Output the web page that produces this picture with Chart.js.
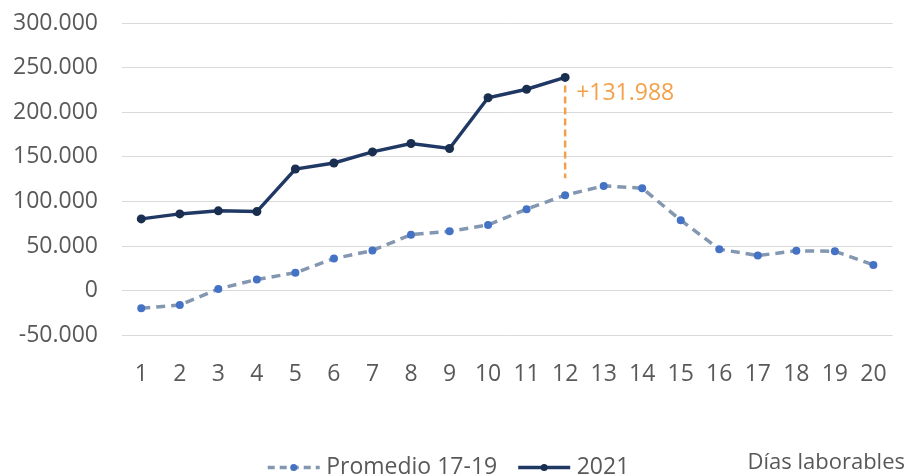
<!DOCTYPE html>
<html>
<head>
<meta charset="utf-8">
<script src="https://cdn.jsdelivr.net/npm/chart.js@4/dist/chart.umd.min.js"></script>
<style>
  html, body { margin: 0; padding: 0; background: #fff; }
  #wrap { width: 912px; height: 475px; position: relative; }
</style>
</head>
<body>
<div id="wrap"><canvas id="chart"></canvas></div>
<script>
// Días laborables 1..20
var dias = ['1', '2', '3', '4', '5', '6', '7', '8', '9', '10', '11', '12', '13', '14', '15', '16', '17', '18', '19', '20'];
var promedio1719 = [-19900, -16200, 1900, 12500, 20000, 35900, 44900, 62700, 66400, 73600, 91300, 107012, 117400, 114800, 78900, 46400, 39300, 44600, 44100, 28800];
var serie2021 = [80400, 86000, 89400, 88600, 136300, 143100, 155500, 164900, 159300, 216200, 225700, 239000];
var yTicksMin = -50000;
var yTicksMax = 300000;
var yTicksStep = 50000;

function fmtMiles(v) {
    return String(v).replace(/\B(?=(\d{3})+(?!\d))/g, '.');
}

var FONT = '"Open Sans", "DejaVu Sans", sans-serif';
var GRIS = '#595959';
var COL_PROM = '#8497b0', COL_PROM_PT = '#4472c4';
var COL_2021 = '#1f3864', COL_2021_PT = '#1a2e4f';

// orange gap marker at the last 2021 day, legend line samples, axis caption
var extrasPlugin = {
    id: 'extras',
    afterDatasetsDraw: function (chart) {
        var ctx = chart.ctx;
        var xs = chart.scales.x, ys = chart.scales.y;
        var i = serie2021.length - 1;
        var x = xs.getPixelForValue(i);
        var yTop = ys.getPixelForValue(serie2021[i]) + 8;
        var yBot = ys.getPixelForValue(promedio1719[i]) - 17;
        ctx.save();
        ctx.strokeStyle = '#f4a04a';
        ctx.lineWidth = 2.5;
        ctx.setLineDash([7, 4]);
        ctx.beginPath();
        ctx.moveTo(x, yTop);
        ctx.lineTo(x, yBot);
        ctx.stroke();
        ctx.setLineDash([]);
        ctx.fillStyle = '#f4a04a';
        ctx.font = '23px ' + FONT;
        ctx.textAlign = 'left';
        ctx.textBaseline = 'middle';
        ctx.fillText('+' + fmtMiles(serie2021[i] - promedio1719[i]), x + 11, yTop + 8);
        ctx.restore();
    },
    afterDraw: function (chart) {
        var ctx = chart.ctx;
        var lg = chart.legend;
        if (!lg || !lg.legendHitBoxes) return;
        ctx.save();
        var styles = [
            { line: COL_PROM, pt: COL_PROM_PT, dash: [7, 5] },
            { line: COL_2021, pt: COL_2021_PT, dash: [] }
        ];
        lg.legendHitBoxes.forEach(function (hb, k) {
            var s = styles[k];
            var cy = hb.top + hb.height / 2;
            ctx.strokeStyle = s.line;
            ctx.lineWidth = 3.5;
            ctx.setLineDash(s.dash);
            ctx.beginPath();
            ctx.moveTo(hb.left + 3, cy);
            ctx.lineTo(hb.left + 55, cy);
            ctx.stroke();
            ctx.setLineDash([]);
            ctx.fillStyle = s.pt;
            ctx.beginPath();
            ctx.arc(hb.left + 29, cy, 3.5, 0, Math.PI * 2);
            ctx.fill();
        });
        var hb0 = lg.legendHitBoxes[0];
        ctx.fillStyle = GRIS;
        ctx.font = '22px ' + FONT;
        ctx.textAlign = 'right';
        ctx.textBaseline = 'middle';
        ctx.fillText('Días laborables', chart.width - 7, hb0.top + hb0.height / 2 - 5);
        ctx.restore();
    }
};

new Chart(document.getElementById('chart'), {
    type: 'line',
    data: {
        labels: dias,
        datasets: [
            {
                label: 'Promedio 17-19',
                data: promedio1719,
                borderColor: COL_PROM,
                borderWidth: 3.5,
                borderDash: [9, 6],
                pointRadius: 4,
                pointBackgroundColor: COL_PROM_PT,
                pointBorderColor: COL_PROM_PT,
                pointBorderWidth: 0,
                tension: 0
            },
            {
                label: '2021',
                data: serie2021,
                borderColor: COL_2021,
                borderWidth: 3.5,
                pointRadius: 4.5,
                pointBackgroundColor: COL_2021_PT,
                pointBorderColor: COL_2021_PT,
                pointBorderWidth: 0,
                tension: 0
            }
        ]
    },
    options: {
        responsive: true,
        maintainAspectRatio: false,
        animation: false,
        events: [],
        layout: { padding: { left: 0, right: 18, top: 23, bottom: -14 } },
        plugins: {
            tooltip: { enabled: false },
            legend: {
                position: 'bottom',
                labels: {
                    boxWidth: 50,
                    boxHeight: 4,
                    color: GRIS,
                    font: { family: FONT, size: 23 },
                    padding: 18,
                    generateLabels: function (chart) {
                        var items = Chart.defaults.plugins.legend.labels.generateLabels(chart);
                        items.forEach(function (it) {
                            it.fillStyle = 'rgba(0,0,0,0)';
                            it.strokeStyle = 'rgba(0,0,0,0)';
                            it.lineWidth = 0;
                        });
                        return items;
                    }
                }
            }
        },
        scales: {
            x: {
                offset: true,
                grid: { display: false, drawTicks: false },
                border: { display: false },
                ticks: { color: GRIS, font: { family: FONT, size: 23 }, padding: 25, maxRotation: 0, autoSkip: false },
                title: { display: true, text: '', font: { size: 1 }, padding: { top: 0, bottom: 24 } }
            },
            y: {
                min: yTicksMin,
                max: yTicksMax,
                afterFit: function (s) {
                    s.width = 122;
                    s.paddingTop = 12;
                    s.paddingBottom = 12;
                },
                grid: { color: '#d9d9d9', lineWidth: 1, drawTicks: false },
                border: { display: false },
                ticks: {
                    stepSize: yTicksStep,
                    color: GRIS,
                    font: { family: FONT, size: 23 },
                    padding: 24,
                    callback: function (v) { return fmtMiles(v); }
                }
            }
        }
    },
    plugins: [extrasPlugin]
});
</script>
</body>
</html>
